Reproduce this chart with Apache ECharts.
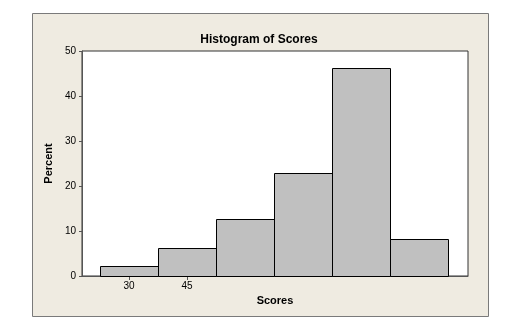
<!DOCTYPE html>
<html>
<head>
<meta charset="utf-8">
<script src="https://cdn.jsdelivr.net/npm/echarts@6/dist/echarts.min.js"></script>
<style>html,body{margin:0;padding:0;background:#fff}#c{width:518px;height:324px}</style>
</head>
<body>
<div id="c"></div>
<script>
// Data
var binCenters = [30, 45, 60, 75, 90, 105];
var binWidth = 15;
var percents = [2.2, 6.2, 12.6, 23.0, 46.2, 8.3];
var xTickValues = [30, 45];
var yTickValues = [0, 10, 20, 30, 40, 50];

var chart = echarts.init(document.getElementById('c'), null, {renderer: 'canvas'});
var font = 'Liberation Sans, Arial, sans-serif';
var data = binCenters.map(function (c, i) { return [c, percents[i]]; });

chart.setOption({
  animation: false,
  backgroundColor: '#ffffff',
  graphic: [{
    type: 'rect', z: -10, silent: true,
    shape: {x: 32.5, y: 13.5, width: 456, height: 303},
    style: {fill: '#EFEBE1', stroke: '#7a7a7a', lineWidth: 1}
  }],
  title: {
    text: 'Histogram of Scores', left: 'center', top: 29,
    textStyle: {fontFamily: font, fontSize: 12, fontWeight: 'bold', color: '#000'}
  },
  grid: {
    left: 82, right: 50, top: 51, bottom: 48,
    show: true, backgroundColor: '#ffffff', borderColor: '#333', borderWidth: 1
  },
  xAxis: {
    type: 'value', min: 17.85, max: 117.7,
    name: 'Scores', nameLocation: 'middle', nameGap: 19,
    nameTextStyle: {fontFamily: font, fontSize: 11, fontWeight: 'bold', color: '#000'},
    axisLine: {show: true, onZero: false, lineStyle: {color: '#555'}},
    axisTick: {show: true, length: 4, customValues: xTickValues, lineStyle: {color: '#555'}},
    axisLabel: {customValues: xTickValues, margin: 5, fontFamily: font, fontSize: 10, color: '#000'},
    splitLine: {show: false}
  },
  yAxis: {
    type: 'value', min: 0, max: 50, interval: 10,
    name: 'Percent', nameLocation: 'middle', nameGap: 21, nameRotate: 90,
    nameTextStyle: {fontFamily: font, fontSize: 11, fontWeight: 'bold', color: '#000'},
    axisLine: {show: true, lineStyle: {color: '#555'}},
    axisTick: {show: true, length: 3, lineStyle: {color: '#555'}},
    axisLabel: {margin: 6, fontFamily: font, fontSize: 10, color: '#000'},
    splitLine: {show: false}
  },
  series: [{
    type: 'custom',
    data: data,
    renderItem: function (params, api) {
      var c = api.value(0), v = api.value(1);
      var p0 = api.coord([c - binWidth / 2, v]);
      var p1 = api.coord([c + binWidth / 2, 0]);
      return {
        type: 'rect',
        shape: {x: Math.round(p0[0]) + 0.5, y: Math.round(p0[1]) + 0.5,
                width: Math.round(p1[0]) - Math.round(p0[0]), height: Math.round(p1[1]) - Math.round(p0[1])},
        style: {fill: '#C0C0C0', stroke: '#000', lineWidth: 1}
      };
    }
  }]
});
</script>
</body>
</html>
